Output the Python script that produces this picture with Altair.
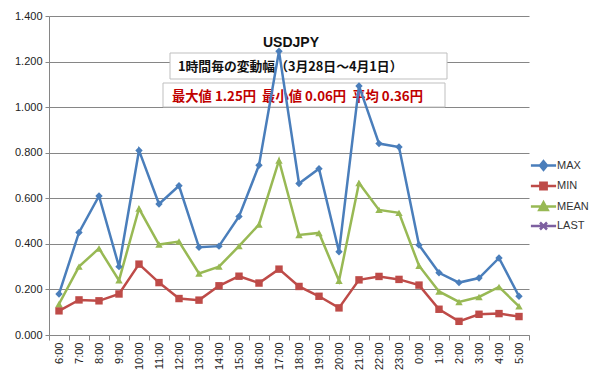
import altair as alt
import pandas as pd

hours = ["6:00", "7:00", "8:00", "9:00", "10:00", "11:00", "12:00", "13:00",
         "14:00", "15:00", "16:00", "17:00", "18:00", "19:00", "20:00", "21:00",
         "22:00", "23:00", "0:00", "1:00", "2:00", "3:00", "4:00", "5:00"]
max_vals = [0.18, 0.45, 0.61, 0.30, 0.81, 0.575, 0.655, 0.385, 0.39, 0.52, 0.745, 1.245,
            0.665, 0.73, 0.365, 1.093, 0.84, 0.825, 0.395, 0.273, 0.23, 0.25, 0.338, 0.17]
min_vals = [0.106, 0.154, 0.15, 0.18, 0.311, 0.23, 0.16, 0.153, 0.216, 0.258, 0.228, 0.289,
            0.213, 0.17, 0.119, 0.242, 0.257, 0.244, 0.219, 0.113, 0.06, 0.091, 0.094, 0.081]
mean_vals = [0.136, 0.30, 0.38, 0.24, 0.555, 0.397, 0.41, 0.27, 0.30, 0.39, 0.485, 0.766,
             0.439, 0.448, 0.238, 0.667, 0.549, 0.536, 0.304, 0.191, 0.145, 0.167, 0.211, 0.126]
series_names = ["MAX", "MIN", "MEAN", "LAST"]
y_ticks = [0, 0.2, 0.4, 0.6, 0.8, 1.0, 1.2, 1.4]

title_text = "USDJPY"
sub_text = "1時間毎の変動幅（3月28日～4月1日）"
stat_text = "最大値 1.25円\u00a0\u00a0最小値 0.06円\u00a0\u00a0平均 0.36円"

colors = ["#4a7ebb", "#be4b48", "#98b954", "#7d60a0"]
chart_shapes = ["diamond", "square", "triangle-up", "cross"]
legend_paths = [
    "M-1.8,0L1.8,0M0,-0.6L0.5,0L0,0.6L-0.5,0Z",
    "M-1.8,0L1.8,0M-0.45,-0.45L0.45,-0.45L0.45,0.45L-0.45,0.45Z",
    "M-1.8,0L1.8,0M0,-0.6L0.6,0.5L-0.6,0.5Z",
    "M-1.8,0L1.8,0M-0.5,-0.5L0.5,0.5M-0.5,0.5L0.5,-0.5",
]

rows = []
for name, vals in [("MAX", max_vals), ("MIN", min_vals), ("MEAN", mean_vals)]:
    for h, v in zip(hours, vals):
        rows.append({"series": name, "hour": h, "value": v})
df = pd.DataFrame(rows)

font = "Liberation Sans"
jp_font = "Noto Sans CJK JP"
grid_col = "#868686"

x_enc = alt.X("hour:N", sort=hours,
              scale=alt.Scale(type="band", paddingInner=0, paddingOuter=0),
              axis=alt.Axis(title=None, labelAngle=270, tickBand="extent", tickSize=5,
                            labelPadding=2, labelFontSize=11, labelFont=font,
                            labelColor="#222222", domainColor=grid_col, tickColor=grid_col,
                            grid=False))
y_enc = alt.Y("value:Q", scale=alt.Scale(domain=[0, 1.4], nice=False, zero=True),
              axis=alt.Axis(title=None, values=y_ticks, format=".3f", grid=True,
                            gridColor=grid_col, gridWidth=1, tickSize=4, labelPadding=3,
                            labelFontSize=11, labelFont=font, labelColor="#222222",
                            domainColor=grid_col, tickColor=grid_col))
color_scale = alt.Scale(domain=series_names, range=colors)

base = alt.Chart(df)

ann_df = pd.DataFrame({"title": [title_text], "sub": [sub_text], "stat": [stat_text]})
ann = alt.Chart(ann_df)

border = ann.mark_rect(filled=False, stroke="#d4d4d4", strokeWidth=1).encode(
    x=alt.value(-46.5), x2=alt.value(546.5), y=alt.value(-13.5), y2=alt.value(372.5))
box1 = ann.mark_rect(fill="white", stroke="#bfbfbf", strokeWidth=1).encode(
    x=alt.value(121), x2=alt.value(398), y=alt.value(37), y2=alt.value(63))
box2 = ann.mark_rect(fill="white", stroke="#bfbfbf", strokeWidth=1).encode(
    x=alt.value(114), x2=alt.value(396), y=alt.value(67), y2=alt.value(91))
t_sub = ann.mark_text(align="left", baseline="middle", font=jp_font, fontSize=12.8,
                      fontWeight="bold", color="#111111").encode(
    text="sub:N", x=alt.value(129), y=alt.value(51))
t_stat = ann.mark_text(align="left", baseline="middle", font=jp_font, fontSize=13.3,
                       fontWeight="bold", color="#c00000").encode(
    text="stat:N", x=alt.value(123), y=alt.value(81))
t_title = ann.mark_text(align="center", baseline="middle", font=font, fontSize=14,
                        fontWeight="bold", color="#111111").encode(
    text="title:N", x=alt.value(242), y=alt.value(27))

lines = base.mark_line(strokeWidth=2.5).encode(
    x=x_enc, y=y_enc,
    color=alt.Color("series:N", scale=color_scale, legend=None))
points = base.mark_point(filled=True, opacity=1, size=55).encode(
    x=x_enc, y=y_enc,
    color=alt.Color("series:N", scale=color_scale, legend=None),
    shape=alt.Shape("series:N", scale=alt.Scale(domain=series_names, range=chart_shapes),
                    legend=None))

leg = alt.Legend(title=None, orient="none", legendX=486, legendY=141, padding=0,
                 symbolSize=196, symbolStrokeWidth=2.5, symbolOpacity=1, labelOffset=5,
                 rowPadding=2.5, labelFont=font, labelFontSize=11, labelColor="#333333")
legend_layer = base.transform_filter("false").mark_point(filled=True, opacity=1).encode(
    fill=alt.Fill("series:N", scale=alt.Scale(domain=series_names, range=colors), legend=leg),
    stroke=alt.Stroke("series:N", scale=alt.Scale(domain=series_names, range=colors), legend=leg),
    shape=alt.Shape("series:N", scale=alt.Scale(domain=series_names, range=legend_paths),
                    legend=leg))

chart = alt.layer(border, box1, box2, t_sub, t_stat, lines, points, t_title,
                  legend_layer).resolve_scale(
    shape="independent", fill="independent", stroke="independent"
).properties(
    width=480, height=319,
    autosize=alt.AutoSizeParams(type="none"),
    padding={"left": 41, "top": 8, "right": 63, "bottom": 49},
    background="white",
).configure_view(stroke=None)

chart.save("out.html", embed_options={"renderer": "svg", "actions": False})
